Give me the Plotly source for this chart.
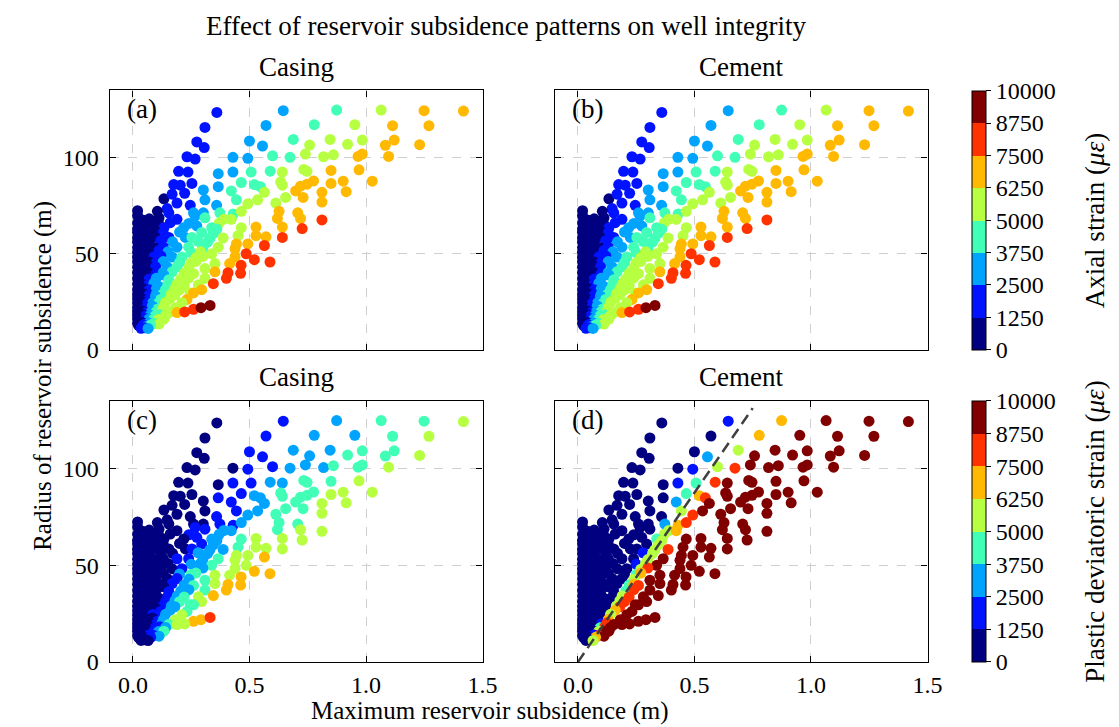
import plotly.graph_objects as go

# ---------------- data ----------------
# Maximum reservoir subsidence (m) and radius of reservoir subsidence (m)
SUBSIDENCE = [
    0.36, 0.645, 0.874, 1.065, 1.249, 1.418,
    0.309, 0.571, 0.778, 0.952, 1.114, 1.27,
    0.274, 0.306, 0.50, 0.556, 0.688, 0.758, 0.846, 0.921, 0.984, 1.083, 1.121, 1.23,
    0.232, 0.267, 0.429, 0.493, 0.599, 0.674, 0.740, 0.818, 0.860, 0.966, 0.984, 1.097,
    0.196, 0.236, 0.366, 0.429, 0.507, 0.589, 0.641, 0.733, 0.747, 0.850, 0.970,
    0.175, 0.203, 0.253, 0.302, 0.366, 0.465, 0.422, 0.521, 0.547, 0.634, 0.641, 0.698, 0.719, 0.747, 0.775, 0.850, 0.902, 0.915, 1.027, 0.811,
    0.133, 0.168, 0.222, 0.147, 0.189, 0.246, 0.309, 0.359, 0.444, 0.493, 0.535, 0.564, 0.613, 0.655, 0.730, 0.811,
    0.02, 0.02, 0.105, 0.112, 0.154, 0.26, 0.302, 0.373, 0.43, 0.465, 0.627, 0.707, 0.811,
    0.045, 0.07, 0.189, 0.267, 0.309, 0.39, 0.422, 0.62, 0.719,
    0.02, 0.05, 0.08, 0.11, 0.16, 0.24, 0.37,
    0.02, 0.045, 0.075, 0.133, 0.218, 0.274, 0.338, 0.36, 0.465, 0.528, 0.641, 0.726,
    0.02, 0.045, 0.07, 0.10, 0.13, 0.20, 0.295, 0.345,
    0.02, 0.045, 0.07, 0.095, 0.154, 0.225, 0.253, 0.33, 0.387, 0.451, 0.528, 0.571, 0.641,
    0.02, 0.045, 0.07, 0.119, 0.17, 0.28, 0.32, 0.444, 0.493,
    0.02, 0.045, 0.07, 0.095, 0.13, 0.189, 0.239, 0.30, 0.366, 0.438, 0.564,
    0.02, 0.045, 0.07, 0.112, 0.15, 0.25, 0.29, 0.338, 0.486,
    0.02, 0.045, 0.07, 0.09, 0.12, 0.168, 0.21, 0.27, 0.30, 0.438,
    0.02, 0.045, 0.07, 0.10, 0.13, 0.20, 0.25, 0.27, 0.352, 0.415, 0.521, 0.588,
    0.02, 0.045, 0.07, 0.097, 0.147, 0.189, 0.24, 0.309, 0.464,
    0.02, 0.045, 0.07, 0.10, 0.13, 0.168, 0.22, 0.24, 0.26, 0.352, 0.408, 0.462,
    0.02, 0.045, 0.07, 0.10, 0.133, 0.154, 0.205, 0.24, 0.309, 0.401,
    0.02, 0.045, 0.07, 0.09, 0.112, 0.15, 0.19, 0.22, 0.281, 0.345,
    0.02, 0.045, 0.07, 0.10, 0.14, 0.18, 0.20, 0.295,
    0.02, 0.045, 0.07, 0.10, 0.125, 0.165, 0.18, 0.246, 0.26,
    0.02, 0.045, 0.069, 0.097, 0.119, 0.16, 0.232,
    0.02, 0.04, 0.062, 0.085, 0.11, 0.14, 0.21,
    0.02, 0.04, 0.06, 0.083, 0.105, 0.13, 0.182, 0.26, 0.292, 0.331,
    0.02, 0.04, 0.06, 0.08, 0.10, 0.125, 0.154, 0.189, 0.222,
    0.02, 0.04, 0.055, 0.075, 0.095, 0.115, 0.14,
    0.02, 0.04, 0.055, 0.069, 0.09, 0.11, 0.133,
    0.02, 0.04, 0.055, 0.07, 0.09, 0.112,
    0.025, 0.045, 0.06, 0.076,
    0.035, 0.05, 0.065,
]
RADIUS = [
    123.6, 124.5, 124.8, 124.8, 124.5, 124.3,
    115.8, 116.8, 117.2, 117.2, 116.7, 116.7,
    108.2, 105.3, 108.7, 106.1, 109.5, 106.6, 109.5, 107.0, 109.2, 106.5, 109.2, 106.8,
    100.5, 99.3, 100.2, 99.7, 101.0, 100.2, 101.9, 100.5, 101.5, 100.7, 101.9, 100.7,
    92.9, 92.5, 91.7, 92.5, 92.5, 93.0, 92.5, 93.9, 92.9, 93.4, 93.7,
    86.0, 85.7, 86.6, 83.2, 84.9, 87.1, 82.7, 86.0, 84.9, 87.4, 85.7, 82.7, 85.2, 86.2, 87.9, 86.6, 87.8, 82.3, 87.8, 82.0,
    78.6, 81.0, 81.5, 73.5, 76.4, 75.2, 78.1, 75.2, 78.1, 76.0, 78.1, 82.0, 76.4, 79.3, 79.3, 76.9,
    72.4, 69.9, 72.1, 68.7, 71.3, 71.3, 71.3, 71.3, 70.7, 72.1, 72.1, 71.3, 67.6,
    67.5, 68.2, 67.9, 69.6, 68.7, 68.0, 67.9, 68.4, 68.4,
    66.0, 65.4, 66.3, 65.7, 66.2, 65.8, 66.0,
    63.0, 63.8, 63.2, 63.6, 63.6, 64.5, 63.6, 62.8, 63.6, 63.9, 63.9, 63.1,
    61.2, 60.6, 61.0, 61.4, 60.8, 61.3, 61.0, 60.6,
    58.3, 58.8, 58.2, 58.7, 58.5, 58.5, 58.5, 58.0, 58.2, 59.4, 59.4, 58.8, 58.5,
    56.0, 56.4, 55.8, 56.8, 56.2, 56.5, 56.0, 55.1, 55.1,
    53.2, 53.8, 53.4, 53.0, 53.6, 53.4, 53.4, 53.0, 53.4, 52.6, 54.3,
    50.8, 51.2, 50.6, 51.7, 51.0, 50.6, 51.0, 50.0, 50.0,
    48.2, 48.7, 48.3, 48.3, 48.8, 48.3, 48.3, 48.0, 48.6, 48.3,
    45.8, 45.2, 45.7, 45.4, 45.9, 45.5, 45.3, 46.0, 44.9, 44.9, 46.9, 45.7,
    43.0, 42.6, 43.3, 43.2, 43.2, 43.2, 42.8, 42.3, 44.0,
    40.2, 39.7, 40.1, 39.8, 40.3, 40.6, 39.9, 40.2, 39.6, 40.6, 40.1, 39.8,
    37.0, 37.4, 36.8, 37.2, 38.9, 36.4, 36.8, 37.4, 37.2, 37.2,
    34.2, 33.8, 34.4, 34.7, 33.0, 34.0, 34.2, 33.6, 33.8, 34.4,
    31.4, 31.8, 31.2, 31.6, 31.3, 31.7, 31.2, 31.3,
    28.8, 29.2, 28.6, 29.1, 28.7, 29.0, 28.6, 29.6, 29.6,
    26.6, 26.2, 26.2, 27.9, 26.2, 26.8, 26.2,
    24.4, 24.8, 24.2, 24.6, 24.3, 24.7, 24.5,
    22.0, 21.6, 22.2, 22.8, 21.1, 22.0, 21.9, 21.1, 21.9, 23.1,
    19.8, 20.2, 19.6, 20.0, 19.8, 20.3, 19.4, 19.4, 19.7,
    17.8, 18.2, 17.7, 18.0, 17.7, 18.2, 17.9,
    16.0, 15.6, 16.2, 16.0, 16.0, 15.8, 16.0,
    13.8, 14.2, 13.6, 14.0, 13.8, 13.4,
    12.6, 12.9, 12.2, 12.8,
    11.2, 11.5, 11.1,
]
# (a) casing axial strain (micro-strain)
STRAIN_A = [
    1900, 3100, 4400, 5600, 6900, 6900,
    1900, 3100, 4400, 5600, 6900, 6900,
    1900, 1900, 3100, 3100, 4400, 5600, 5600, 5600, 5600, 6900, 6900, 6900,
    1900, 1900, 3100, 3100, 4400, 4400, 5600, 5600, 5600, 6900, 6900, 6900,
    1900, 1900, 3100, 3100, 4400, 4400, 5600, 5600, 5600, 6900, 6900,
    1900, 1900, 1900, 3100, 3100, 4400, 4400, 4400, 4400, 5600, 5600, 6900, 6900, 6900, 6900, 6900, 6900, 6900, 6900, 6900,
    600, 1900, 1900, 1900, 1900, 1900, 3100, 3100, 4400, 5600, 5600, 5600, 5600, 5600, 6900, 6900,
    600, 600, 600, 600, 1900, 3100, 3100, 4400, 4400, 5600, 6900, 6900, 8100,
    600, 600, 1900, 3100, 4400, 5600, 5600, 6900, 6900,
    600, 600, 600, 600, 1900, 3100, 5600,
    600, 600, 600, 1900, 3100, 3100, 4400, 4400, 5600, 6900, 6900, 8100,
    600, 600, 600, 600, 1900, 3100, 4400, 4400,
    600, 600, 600, 600, 1900, 3100, 4400, 4400, 5600, 5600, 6900, 6900, 8100,
    600, 600, 600, 1900, 3100, 4400, 4400, 6900, 6900,
    600, 600, 600, 600, 1900, 3100, 4400, 4400, 5600, 6900, 8100,
    600, 600, 600, 1900, 3100, 4400, 5600, 5600, 8100,
    600, 600, 600, 1900, 1900, 3100, 4400, 5600, 5600, 6900,
    600, 600, 600, 1900, 3100, 4400, 5600, 5600, 5600, 6900, 8100, 8100,
    600, 600, 600, 1900, 3100, 4400, 5600, 5600, 8100,
    600, 600, 600, 1900, 3100, 4400, 5600, 5600, 5600, 6900, 8100, 8100,
    600, 600, 1900, 3100, 3100, 4400, 5600, 5600, 5600, 8100,
    600, 600, 1900, 3100, 3100, 4400, 5600, 5600, 5600, 8100,
    600, 600, 1900, 3100, 4400, 5600, 5600, 6900,
    600, 600, 1900, 3100, 4400, 5600, 5600, 5600, 6900,
    600, 600, 1900, 3100, 4400, 5600, 6900,
    600, 600, 1900, 3100, 4400, 5600, 5600,
    600, 600, 1900, 3100, 4400, 5600, 5600, 8100, 9400, 9400,
    600, 600, 1900, 3100, 4400, 5600, 5600, 6900, 8100,
    600, 600, 1900, 3100, 4400, 4400, 5600,
    600, 600, 1900, 3100, 4400, 5600, 5600,
    600, 600, 1900, 3100, 4400, 5600,
    600, 1900, 3100, 4400,
    1900, 1900, 3100,
]
# (b) cement axial strain: same colour classes as (a) in the reference
STRAIN_B = list(STRAIN_A)
# (c) casing plastic deviatoric strain
STRAIN_C = [
    600, 1900, 3100, 4400, 4400, 5600,
    600, 1900, 3100, 3100, 4400, 5600,
    600, 600, 1900, 1900, 3100, 3100, 3100, 4400, 4400, 4400, 4400, 5600,
    600, 600, 600, 1900, 1900, 3100, 3100, 3100, 4400, 4400, 4400, 5600,
    600, 600, 600, 1900, 1900, 3100, 3100, 4400, 4400, 4400, 5600,
    600, 600, 600, 600, 1900, 1900, 1900, 3100, 3100, 4400, 4400, 4400, 4400, 4400, 4400, 5600, 5600, 5600, 5600, 5600,
    600, 600, 600, 600, 600, 600, 600, 1900, 1900, 3100, 3100, 3100, 4400, 4400, 4400, 5600,
    600, 600, 600, 600, 600, 600, 600, 1900, 1900, 3100, 4400, 4400, 5600,
    600, 600, 600, 1900, 1900, 3100, 3100, 4400, 5600,
    600, 600, 600, 600, 600, 1900, 3100,
    600, 600, 600, 600, 600, 1900, 3100, 3100, 4400, 5600, 5600, 5600,
    600, 600, 600, 600, 600, 600, 1900, 3100,
    600, 600, 600, 600, 600, 600, 1900, 3100, 3100, 4400, 5600, 5600, 5600,
    600, 600, 600, 600, 600, 3100, 3100, 5600, 5600,
    600, 600, 600, 600, 600, 1900, 1900, 3100, 4400, 5600, 6900,
    600, 600, 600, 600, 600, 3100, 3100, 4400, 5600,
    600, 600, 600, 600, 600, 600, 1900, 3100, 3100, 5600,
    600, 600, 600, 600, 600, 3100, 4400, 4400, 5600, 5600, 6900, 6900,
    600, 600, 600, 600, 600, 1900, 3100, 4400, 6900,
    600, 600, 600, 600, 600, 1900, 3100, 3100, 4400, 5600, 6900, 6900,
    600, 600, 600, 600, 600, 1900, 3100, 3100, 4400, 6900,
    600, 600, 600, 600, 600, 1900, 3100, 4400, 5600, 6900,
    600, 600, 600, 600, 1900, 3100, 4400, 5600,
    600, 600, 600, 600, 1900, 3100, 3100, 4400, 4400,
    600, 600, 600, 600, 1900, 3100, 4400,
    600, 600, 600, 1900, 1900, 3100, 5600,
    600, 600, 600, 600, 1900, 3100, 5600, 6900, 6900, 8100,
    600, 600, 600, 600, 1900, 3100, 4400, 5600, 5600,
    600, 600, 600, 600, 1900, 1900, 3100,
    600, 600, 600, 600, 1900, 3100, 4400,
    600, 600, 600, 1900, 1900, 3100,
    600, 600, 600, 1900,
    600, 600, 600,
]
# (d) cement plastic deviatoric strain
STRAIN_D = [
    600, 1900, 6900, 9400, 9400, 9400,
    600, 600, 6900, 9400, 9400, 9400,
    600, 600, 600, 3100, 5600, 9400, 9400, 9400, 9400, 9400, 9400, 9400,
    600, 600, 600, 1900, 5600, 8100, 9400, 9400, 9400, 9400, 9400, 9400,
    600, 600, 600, 1900, 4400, 8100, 9400, 9400, 9400, 9400, 9400,
    600, 600, 600, 600, 600, 4400, 3100, 6900, 8100, 9400, 9400, 9400, 9400, 9400, 9400, 9400, 9400, 9400, 9400, 9400,
    600, 600, 600, 600, 600, 600, 600, 600, 5600, 8100, 9400, 9400, 9400, 9400, 9400, 9400,
    600, 600, 600, 600, 600, 600, 600, 3100, 6900, 8100, 9400, 9400, 9400,
    600, 600, 600, 600, 600, 5600, 6900, 9400, 9400,
    600, 600, 600, 600, 600, 600, 5600,
    600, 600, 600, 600, 600, 600, 4400, 5600, 9400, 9400, 9400, 9400,
    600, 600, 600, 600, 600, 600, 600, 5600,
    600, 600, 600, 600, 600, 600, 600, 5600, 8100, 9400, 9400, 9400, 9400,
    600, 600, 600, 600, 600, 1900, 5600, 9400, 9400,
    600, 600, 600, 600, 600, 600, 600, 5600, 9400, 9400, 9400,
    600, 600, 600, 600, 600, 1900, 5600, 9400, 9400,
    600, 600, 600, 600, 600, 600, 600, 5600, 8100, 9400,
    600, 600, 600, 600, 600, 600, 4400, 6900, 9400, 9400, 9400, 9400,
    600, 600, 600, 600, 600, 600, 5600, 9400, 9400,
    600, 600, 600, 600, 600, 600, 4400, 6900, 8100, 9400, 9400, 9400,
    600, 600, 600, 600, 600, 600, 4400, 8100, 9400, 9400,
    600, 600, 600, 600, 600, 600, 5600, 8100, 9400, 9400,
    600, 600, 600, 600, 600, 5600, 8100, 9400,
    600, 600, 600, 600, 600, 5600, 8100, 9400, 9400,
    600, 600, 600, 600, 600, 6900, 9400,
    600, 600, 600, 600, 600, 5600, 9400,
    600, 600, 600, 600, 600, 6900, 9400, 9400, 9400, 9400,
    600, 600, 600, 600, 1900, 8100, 9400, 9400, 9400,
    600, 600, 600, 600, 4400, 8100, 9400,
    600, 600, 600, 600, 5600, 9400, 9400,
    600, 600, 600, 1900, 8100, 9400,
    600, 600, 600, 6900,
    600, 600, 5600,
]
# dashed reference line in panel (d)
LINE_X = [0.0, 0.75]
LINE_Y = [0.0, 131.25]

CBAR_TICKS = [0, 1250, 2500, 3750, 5000, 6250, 7500, 8750, 10000]
JET8 = ['#000080', '#0012ff', '#00a4ff', '#41ffb6',
        '#b6ff41', '#ffb900', '#ff3200', '#800000']
X_TICKS = [0.0, 0.5, 1.0, 1.5]
Y_TICKS = [0, 50, 100]

n = len(SUBSIDENCE)
assert len(RADIUS) == n and len(STRAIN_A) == n and len(STRAIN_C) == n and len(STRAIN_D) == n, \
    (n, len(RADIUS), len(STRAIN_A), len(STRAIN_C), len(STRAIN_D))

# ---------------- figure ----------------
W, H = 1119, 727
FONT = "Liberation Serif, Times New Roman, serif"
TICK_SIZE = 24
TEXT_SIZE = 27
AXIS_TITLE_SIZE = 25


def px(x):
    return x / W


def py(y):
    return 1 - y / H


stepped = []
for i, c in enumerate(JET8):
    stepped.append([i / 8, c])
    stepped.append([(i + 1) / 8, c])

fig = go.Figure()

panels = [
    ("x", "y", STRAIN_A, "coloraxis"),
    ("x2", "y2", STRAIN_B, "coloraxis"),
    ("x3", "y3", STRAIN_C, "coloraxis2"),
    ("x4", "y4", STRAIN_D, "coloraxis2"),
]
for xa, ya, vals, cax in panels:
    fig.add_trace(go.Scatter(
        x=SUBSIDENCE, y=RADIUS, mode="markers", xaxis=xa, yaxis=ya,
        marker=dict(size=11, color=vals, coloraxis=cax, line=dict(width=0)),
        showlegend=False, hoverinfo="skip"))

fig.add_trace(go.Scatter(
    x=LINE_X, y=LINE_Y, mode="lines", xaxis="x4", yaxis="y4",
    line=dict(color="#404040", width=2.5, dash="11px,6px"),
    showlegend=False, hoverinfo="skip"))

xdom_l = [px(103), px(481)]
xdom_r = [px(554), px(932)]
ydom_t = [py(348), py(84)]
ydom_b = [py(666), py(400)]

axis_common = dict(
    showline=True, linecolor="black", linewidth=1.3, mirror="ticks",
    ticks="inside", ticklen=6, tickwidth=1.3, tickcolor="black",
    showgrid=True, gridcolor="#cfcfcf", gridwidth=1, griddash="dash",
    zeroline=False, tickfont=dict(family=FONT, size=TICK_SIZE, color="black"),
)
xcommon = dict(axis_common, range=[-0.1, 1.5], tickvals=X_TICKS,
               ticktext=["0.0", "0.5", "1.0", "1.5"], ticklabelstandoff=1)
ycommon = dict(axis_common, range=[0, 135], tickvals=Y_TICKS, ticklabelstandoff=5)


def cbar(ycenter, length):
    return dict(
        x=px(977), xanchor="left", xpad=0, ypad=0,
        y=py(ycenter), yanchor="middle", len=length / H, lenmode="fraction",
        thickness=14, thicknessmode="pixels",
        outlinecolor="black", outlinewidth=1,
        tickvals=CBAR_TICKS, ticktext=[str(t) for t in CBAR_TICKS],
        ticks="outside", ticklen=5, tickcolor="black",
        tickfont=dict(family=FONT, size=TICK_SIZE, color="black"))


fig.update_layout(
    width=W, height=H,
    margin=dict(l=0, r=0, t=0, b=0),
    paper_bgcolor="white", plot_bgcolor="white",
    font=dict(family=FONT, size=TICK_SIZE, color="black"),
    xaxis=dict(xcommon, domain=xdom_l, anchor="y", showticklabels=False),
    yaxis=dict(ycommon, domain=ydom_t, anchor="x"),
    xaxis2=dict(xcommon, domain=xdom_r, anchor="y2", showticklabels=False),
    yaxis2=dict(ycommon, domain=ydom_t, anchor="x2", showticklabels=False),
    xaxis3=dict(xcommon, domain=xdom_l, anchor="y3"),
    yaxis3=dict(ycommon, domain=ydom_b, anchor="x3"),
    xaxis4=dict(xcommon, domain=xdom_r, anchor="y4"),
    yaxis4=dict(ycommon, domain=ydom_b, anchor="x4", showticklabels=False),
    coloraxis=dict(cmin=0, cmax=10000, colorscale=stepped,
                   colorbar=cbar(216, 348 - 84)),
    coloraxis2=dict(cmin=0, cmax=10000, colorscale=stepped,
                    colorbar=cbar(533, 666 - 400)),
)

ann = []


def text(x, y, s, size=TEXT_SIZE, angle=0, xanchor="center"):
    ann.append(dict(x=px(x), y=py(y), xref="paper", yref="paper", text=s,
                    showarrow=False, textangle=angle, xanchor=xanchor,
                    yanchor="middle", font=dict(family=FONT, size=size, color="black")))


text(505, 18, "Effect of reservoir subsidence patterns on well integrity")
text(292, 60, "Casing")
text(743, 60, "Cement")
text(292, 376, "Casing")
text(743, 376, "Cement")
text(489, 716, "Maximum reservoir subsidence (m)", size=AXIS_TITLE_SIZE)
text(36, 375, "Radius of reservoir subsidence (m)", size=AXIS_TITLE_SIZE, angle=-90)
text(1102, 216, "Axial strain (<i>με</i>)", angle=-90)
text(1102, 533, "Plastic deviatoric strain (<i>με</i>)", angle=-90)
text(119, 103, "(a)", xanchor="left")
text(570, 103, "(b)", xanchor="left")
text(119, 419, "(c)", xanchor="left")
text(570, 419, "(d)", xanchor="left")
fig.update_layout(annotations=ann)

fig.write_html("out.html")
